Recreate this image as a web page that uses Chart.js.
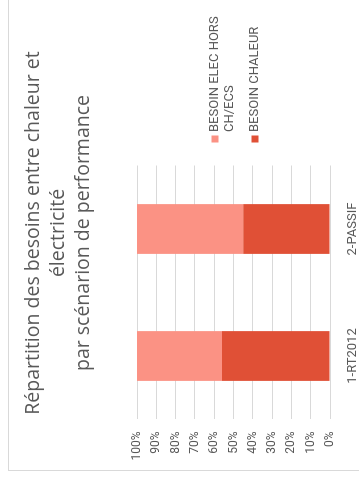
<!DOCTYPE html>
<html lang="fr">
<head>
<meta charset="utf-8">
<title>Répartition des besoins</title>
<script src="https://cdn.jsdelivr.net/npm/chart.js@4.4.1/dist/chart.umd.min.js"></script>
<style>
  html, body { margin: 0; padding: 0; background: #fff; }
  body { width: 359px; height: 486px; overflow: hidden; position: relative; }
  /* the sheet is laid out landscape, then turned a quarter turn */
  #sheet { position: absolute; left: 0; top: 0; width: 486px; height: 359px; overflow: hidden;
           transform-origin: 0 0; transform: translateY(486px) rotate(-90deg); }
  #frame { position: absolute; left: 15px; top: 8px; width: 600px; height: 500px;
           border-left: 1px solid #d9d9d9; border-top: 1px solid #d9d9d9; }
  #repartitionChart { position: absolute; left: 0; top: 0; }
</style>
</head>
<body>
<div id="sheet">
  <div id="frame"></div>
  <canvas id="repartitionChart" width="486" height="359"></canvas>
</div>
<script>
const ctx = document.getElementById('repartitionChart').getContext('2d');

const scenarios = ['1-RT2012', '2-PASSIF'];
const besoinChaleur = [56, 45];
const besoinElec = [44, 55];
const titleLines = [
  'Répartition des besoins entre chaleur et',
  'électricité',
  'par scénarion de performance'
];

const colors = {
  elec: '#fb9284',
  chaleur: '#e05036'
};
const textColor = '#595959';

function wrapText(c, text, maxWidth) {
  const lines = [];
  let line = '';
  text.split(' ').forEach(word => {
    const test = line ? line + ' ' + word : word;
    if (line && c.measureText(test).width > maxWidth) {
      lines.push(line);
      line = word;
    } else {
      line = test;
    }
  });
  lines.push(line);
  return lines;
}

// title on top, wrapped legend to the right of the plot
const sideText = {
  id: 'sideText',
  afterDraw(chart) {
    const c = chart.ctx;
    c.save();
    c.fillStyle = textColor;
    c.textAlign = 'center';
    c.textBaseline = 'alphabetic';
    c.font = '19.5px "Open Sans"';
    titleLines.forEach((line, i) => c.fillText(line, 253, 39 + i * 25));

    c.font = '13px Roboto';
    c.textAlign = 'left';
    c.textBaseline = 'middle';
    let y = 215;
    chart.data.datasets.slice().reverse().forEach(ds => {
      c.fillStyle = ds.backgroundColor;
      c.fillRect(343.5, y - 3.5, 7, 7);
      c.fillStyle = textColor;
      const lines = wrapText(c, ds.label, 126);
      lines.forEach((line, i) => c.fillText(line, 354, y + i * 15));
      y += lines.length * 15 + 10;
    });
    c.restore();
  }
};

new Chart(ctx, {
  type: 'bar',
  data: {
    labels: scenarios,
    datasets: [
      { label: 'BESOIN CHALEUR', data: besoinChaleur, backgroundColor: colors.chaleur },
      { label: 'BESOIN ELEC HORS CH/ECS', data: besoinElec, backgroundColor: colors.elec }
    ]
  },
  options: {
    responsive: false,
    animation: false,
    layout: { padding: { left: 0, top: 137, right: 165.5, bottom: 0 } },
    datasets: { bar: { categoryPercentage: 0.8, barPercentage: 0.49 } },
    plugins: {
      legend: { display: false },
      title: { display: false },
      tooltip: { enabled: false }
    },
    scales: {
      x: {
        stacked: true,
        grid: { display: false },
        border: { display: false },
        ticks: { color: textColor, font: { family: 'Roboto', size: 13 }, padding: 7 },
        afterFit: scale => { scale.height = 29; }
      },
      y: {
        stacked: true,
        min: 0,
        max: 100,
        grid: { color: '#d9d9d9', drawTicks: false },
        border: { display: false },
        ticks: {
          stepSize: 10,
          color: textColor,
          font: { family: 'Roboto', size: 12 },
          padding: 12,
          callback: v => v + '%'
        },
        afterFit: scale => { scale.width = 66.5; }
      }
    }
  },
  plugins: [sideText]
});
</script>
</body>
</html>
